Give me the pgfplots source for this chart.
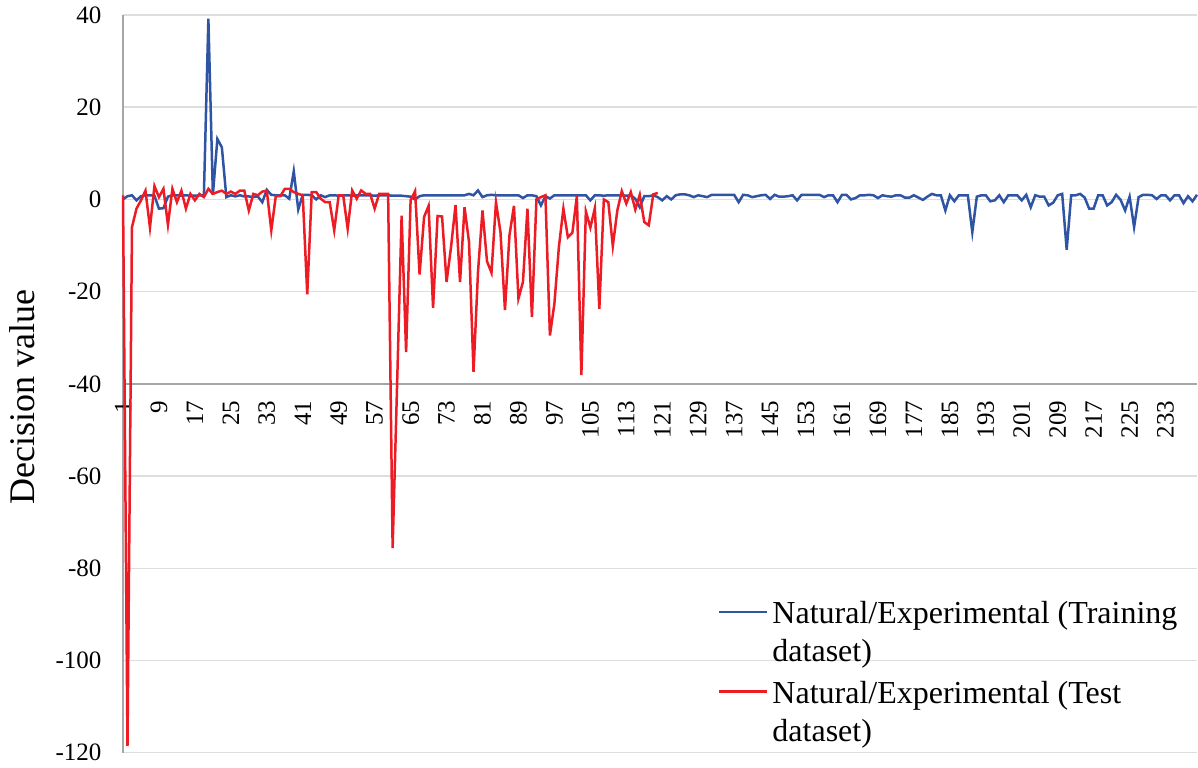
\documentclass[border=0pt]{standalone}
\usepackage{fontspec}
\setmainfont{Liberation Serif}
\usepackage{pgfplots}
\pgfplotsset{compat=1.18}
\definecolor{trainblue}{RGB}{47,84,164}
\definecolor{testred}{RGB}{237,28,36}
\definecolor{gridgray}{RGB}{222,222,222}
\definecolor{axisgray}{RGB}{166,166,166}
\begin{document}
\begin{tikzpicture}
\begin{axis}[
  scale only axis, width=537pt, height=368.85pt,
  xmin=1, xmax=240, ymin=-120, ymax=40,
  axis lines=left, axis line style={-},
  x axis line style={draw=none},
  y axis line style={draw=axisgray, line width=1pt},
  ytick={-120,-100,-80,-60,-40,-20,0,20,40},
  yticklabels={-120,-100,-80,-60,-40,-20,0,20,40},
  ymajorgrids, grid style={draw=gridgray, line width=0.75pt},
  extra y ticks={-40}, extra y tick labels={},
  extra y tick style={grid style={draw=axisgray, line width=1pt}},
  xtick={1,9,...,233},
  xticklabels={1,9,17,25,33,41,49,57,65,73,81,89,97,105,113,121,129,137,145,153,161,169,177,185,193,201,209,217,225,233},
  major tick length=0pt,
  tick label style={font=\fontsize{12.5}{15}\selectfont},
  yticklabel style={xshift=-7.3pt},
  xticklabel style={yshift=179.5pt, rotate=90, anchor=east},
  every axis y label/.style={at={(axis description cs:-0.094,0.4826)}, rotate=90, anchor=center, font=\fontsize{18}{21}\selectfont},
  ylabel={Decision value},
  legend style={at={(axis description cs:0.548,0.222)}, anchor=north west, draw=none, fill=none, font=\fontsize{16}{19}\selectfont, row sep=21pt},
  legend cell align=left,
  legend image code/.code={\draw[#1] (0pt,0pt) -- (24pt,0pt);},
  clip=false,
]
\addplot[trainblue, line width=1.25pt] coordinates {
(1,0.0)(2,0.7)(3,0.9)(4,-0.2)(5,0.7)(6,0.9)(7,0.9)(8,0.8)(9,-2.0)(10,-1.9)
(11,0.6)(12,0.9)(13,0.9)(14,0.8)(15,0.9)(16,0.8)(17,0.8)(18,0.9)(19,0.9)(20,39.2)
(21,1.0)(22,13.1)(23,11.3)(24,0.5)(25,0.9)(26,0.65)(27,0.9)(28,0.65)(29,0.65)(30,0.5)
(31,0.65)(32,-0.6)(33,2.1)(34,1.0)(35,0.9)(36,0.9)(37,0.9)(38,0.15)(39,6.1)(40,-2.2)
(41,1.0)(42,1.0)(43,0.9)(44,0.0)(45,0.9)(46,0.5)(47,0.9)(48,0.9)(49,0.8)(50,0.9)
(51,0.9)(52,0.8)(53,0.9)(54,0.9)(55,0.9)(56,0.9)(57,0.8)(58,0.9)(59,0.9)(60,0.9)
(61,0.8)(62,0.8)(63,0.8)(64,0.7)(65,0.6)(66,0.0)(67,0.7)(68,0.9)(69,0.9)(70,0.9)
(71,0.9)(72,0.9)(73,0.9)(74,0.9)(75,0.9)(76,0.9)(77,0.9)(78,1.2)(79,0.9)(80,1.95)
(81,0.5)(82,0.9)(83,1.0)(84,0.9)(85,0.9)(86,0.9)(87,0.9)(88,0.9)(89,0.9)(90,0.3)
(91,0.9)(92,0.9)(93,0.7)(94,-1.3)(95,0.7)(96,0.2)(97,0.9)(98,0.9)(99,0.9)(100,0.9)
(101,0.9)(102,0.9)(103,0.9)(104,0.9)(105,-0.2)(106,0.9)(107,0.9)(108,0.8)(109,0.9)(110,0.9)
(111,0.9)(112,0.9)(113,0.8)(114,0.9)(115,0.15)(116,-1.7)(117,0.7)(118,0.7)(119,0.9)(120,0.5)
(121,-0.2)(122,0.7)(123,0.0)(124,0.9)(125,1.1)(126,1.1)(127,0.9)(128,0.5)(129,0.9)(130,0.7)
(131,0.5)(132,1.0)(133,1.0)(134,1.0)(135,1.0)(136,1.0)(137,1.0)(138,-0.6)(139,1.0)(140,0.9)
(141,0.5)(142,0.7)(143,0.9)(144,1.0)(145,0.1)(146,1.0)(147,0.6)(148,0.6)(149,0.7)(150,0.9)
(151,-0.2)(152,1.0)(153,1.0)(154,1.0)(155,1.0)(156,1.0)(157,0.5)(158,0.9)(159,0.9)(160,-0.6)
(161,1.0)(162,1.0)(163,0.0)(164,0.3)(165,0.9)(166,0.9)(167,1.0)(168,0.9)(169,0.3)(170,0.9)
(171,0.7)(172,0.6)(173,0.9)(174,0.9)(175,0.4)(176,0.4)(177,0.9)(178,0.4)(179,-0.1)(180,0.6)
(181,1.2)(182,0.9)(183,0.9)(184,-2.4)(185,0.9)(186,-0.4)(187,0.9)(188,0.9)(189,0.9)(190,-7.1)
(191,0.6)(192,0.9)(193,0.9)(194,-0.4)(195,-0.2)(196,0.9)(197,-0.6)(198,0.9)(199,0.9)(200,0.9)
(201,-0.2)(202,1.0)(203,-1.7)(204,0.9)(205,0.6)(206,0.6)(207,-1.3)(208,-0.7)(209,0.9)(210,1.2)
(211,-10.9)(212,0.9)(213,0.9)(214,1.2)(215,0.4)(216,-2.0)(217,-2.0)(218,0.9)(219,0.9)(220,-1.3)
(221,-0.6)(222,1.0)(223,-0.1)(224,-2.4)(225,0.6)(226,-6.0)(227,0.5)(228,1.0)(229,1.0)(230,0.9)
(231,0.1)(232,0.9)(233,0.9)(234,-0.2)(235,0.9)(236,0.9)(237,-0.8)(238,0.7)(239,-0.4)(240,1.0)
};
\addlegendentry{\begin{tabular}[t]{@{}l@{}}Natural/Experimental (Training\\dataset)\end{tabular}}
\addplot[testred, line width=1.25pt] coordinates {
(1,0.9)(2,-118.5)(3,-6.0)(4,-2.0)(5,-0.2)(6,1.9)(7,-6.1)(8,2.9)(9,0.5)(10,2.3)
(11,-5.5)(12,2.3)(13,-0.6)(14,1.9)(15,-2.0)(16,1.2)(17,-0.2)(18,1.2)(19,0.5)(20,2.3)
(21,1.2)(22,1.6)(23,1.9)(24,1.2)(25,1.7)(26,1.2)(27,1.9)(28,1.9)(29,-2.4)(30,1.2)
(31,0.9)(32,1.7)(33,1.9)(34,-6.7)(35,0.7)(36,0.7)(37,2.3)(38,2.3)(39,1.6)(40,1.2)
(41,0.9)(42,-20.6)(43,1.6)(44,1.6)(45,0.15)(46,-0.6)(47,-0.6)(48,-6.7)(49,0.9)(50,0.9)
(51,-6.35)(52,1.95)(53,0.15)(54,1.95)(55,1.2)(56,1.2)(57,-2.0)(58,1.2)(59,1.2)(60,1.2)
(61,-75.6)(62,-40)(63,-3.5)(64,-33.1)(65,-0.2)(66,1.8)(67,-16.3)(68,-3.8)(69,-1.4)(70,-23.5)
(71,-3.6)(72,-3.7)(73,-17.9)(74,-10.3)(75,-1.2)(76,-17.9)(77,-1.7)(78,-9.2)(79,-37.4)(80,-15.7)
(81,-2.4)(82,-13.4)(83,-15.9)(84,-0.6)(85,-7.1)(86,-24.0)(87,-7.8)(88,-1.4)(89,-21.5)(90,-17.9)
(91,-2.0)(92,-25.5)(93,0.0)(94,0.5)(95,0.9)(96,-29.5)(97,-22.6)(98,-10.3)(99,-2.0)(100,-8.2)
(101,-7.2)(102,0.7)(103,-38.1)(104,-2.6)(105,-6.1)(106,-1.9)(107,-23.7)(108,0.0)(109,-0.6)(110,-10.1)
(111,-2.4)(112,1.8)(113,-0.9)(114,1.6)(115,-2.2)(116,1.0)(117,-4.9)(118,-5.6)(119,1.1)(120,1.4)
};
\addlegendentry{\begin{tabular}[t]{@{}l@{}}Natural/Experimental (Test\\dataset)\end{tabular}}
\end{axis}
\pgfresetboundingbox
\path[use as bounding box] (-61.5pt,-7.15pt) rectangle (537.5pt,376.35pt);
\end{tikzpicture}
\end{document}
